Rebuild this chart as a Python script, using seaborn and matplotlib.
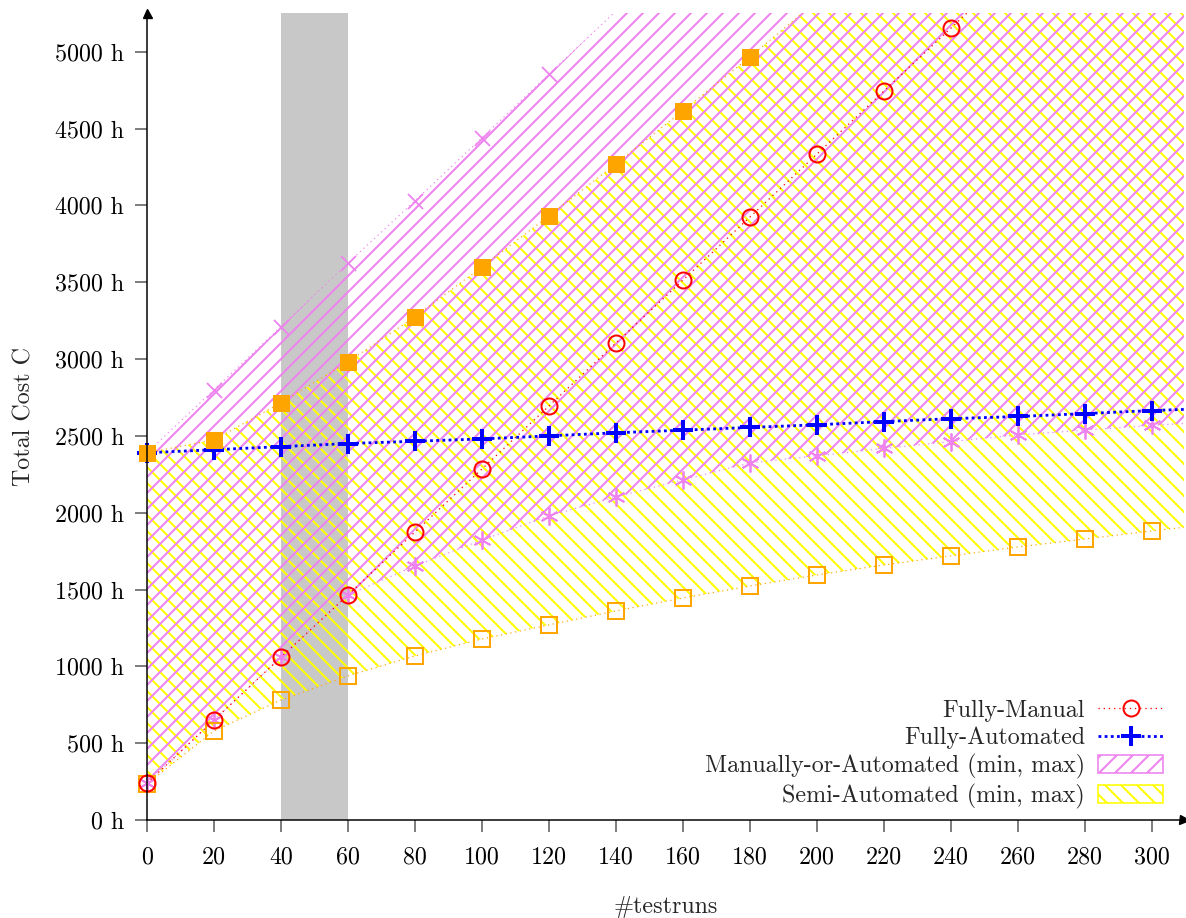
import numpy as np
import pandas as pd
import matplotlib
matplotlib.use("Agg")
import matplotlib.pyplot as plt
import seaborn as sns
from matplotlib.lines import Line2D
from matplotlib.patches import Patch

# ---------------- data ----------------
testruns = [0, 20, 40, 60, 80, 100, 120, 140, 160, 180, 200, 220, 240, 260, 280, 300, 320]

fully_manual = [240, 650, 1060, 1465, 1875, 2285, 2695, 3105, 3515, 3925, 4335, 4745, 5155, 5565,
                5975, 6385, 6795]
fully_automated = [2390, 2410, 2430, 2450, 2465, 2480, 2500, 2520, 2537, 2555, 2572, 2593, 2612,
                   2626, 2645, 2665, 2680]
manual_or_auto_min = [240, 650, 1060, 1465, 1654, 1823, 1979, 2103, 2214, 2324, 2370, 2418, 2463,
                      2506, 2537, 2568, 2595]
manual_or_auto_max = [2390, 2800, 3210, 3625, 4030, 4440, 4855, 5265, 5675, 6085, 6495, 6905,
                      7315, 7725, 8135, 8545, 8955]
semi_auto_min = [235, 580, 781, 938, 1068, 1178, 1270, 1361, 1445, 1523, 1595, 1660, 1719, 1777,
                 1829, 1882, 1930]
semi_auto_max = [2390, 2474, 2715, 2982, 3275, 3600, 3932, 4271, 4616, 4967, 5330, 5700, 6080,
                 6470, 6860, 7260, 7660]

x_ticks = [0, 20, 40, 60, 80, 100, 120, 140, 160, 180, 200, 220, 240, 260, 280, 300]
y_ticks = [0, 500, 1000, 1500, 2000, 2500, 3000, 3500, 4000, 4500, 5000]
y_ticklabels = ["0 h", "500 h", "1000 h", "1500 h", "2000 h", "2500 h", "3000 h", "3500 h",
                "4000 h", "4500 h", "5000 h"]
highlight_range = (40, 60)

legend_labels = ["Fully-Manual", "Fully-Automated", "Manually-or-Automated (min, max)",
                 "Semi-Automated (min, max)"]

# ---------------- style ----------------
DPI = 96


def px(v):
    """pixel size -> points at the chosen dpi"""
    return v * 72.0 / DPI


sns.set_theme(style="white")
plt.rcParams["font.family"] = ["cmr10", "DejaVu Serif"]
plt.rcParams["mathtext.fontset"] = "cm"
plt.rcParams["axes.unicode_minus"] = False
plt.rcParams["hatch.linewidth"] = px(2.0)

FS = px(24)
XMAX, YMAX = 309.5, 5252

df = pd.DataFrame({
    "testruns": testruns,
    "manual": fully_manual,
    "auto": fully_automated,
    "moa_min": manual_or_auto_min,
    "moa_max": manual_or_auto_max,
    "semi_min": semi_auto_min,
    "semi_max": semi_auto_max,
})

fig = plt.figure(figsize=(1186 / DPI, 918 / DPI), dpi=DPI)
ax = fig.add_axes([147 / 1186, (918 - 820) / 918, (1184 - 147) / 1186, (820 - 13) / 918])

VIOLET = "#ee82ee"
ORANGE = "#ffa500"
YELLOW = "#ffff00"
RED = "#ff0000"
BLUE = "#0000ff"

# grey band
ax.axvspan(*highlight_range, color="#c8c8c8", lw=0, zorder=0)

# hatched ranges
ax.fill_between(df["testruns"], df["semi_min"], df["semi_max"], facecolor="none",
                edgecolor=YELLOW, hatch="\\\\", linewidth=0, zorder=1)
ax.fill_between(df["testruns"], df["moa_min"], df["moa_max"], facecolor="none",
                edgecolor=VIOLET, hatch="//", linewidth=0, zorder=2)

# boundary lines (clipped)
dot = (0, (1, 3))
for col, c in [("semi_min", ORANGE), ("semi_max", ORANGE), ("moa_min", VIOLET), ("moa_max", VIOLET)]:
    sns.lineplot(data=df, x="testruns", y=col, ax=ax, color=c, lw=px(1.2), linestyle=dot,
                 legend=False, zorder=3)
sns.lineplot(data=df, x="testruns", y="manual", ax=ax, color=RED, lw=px(1.3), linestyle=dot,
             legend=False, zorder=4)
sns.lineplot(data=df, x="testruns", y="auto", ax=ax, color=BLUE, lw=px(2.8),
             linestyle=(0, (1, 1.2)), legend=False, zorder=5)

# markers (only within view, unclipped)
def visible(col):
    return df[(df["testruns"] <= 300) & (df[col] <= YMAX)]

mk = dict(linestyle="", legend=False, clip_on=False)
d = visible("moa_max")
sns.lineplot(x=d["testruns"], y=d["moa_max"], ax=ax, marker="x", markersize=px(15), mew=px(1.8),
             color=VIOLET, markeredgecolor=VIOLET, zorder=6, **mk)
d = visible("moa_min")
sns.lineplot(x=d["testruns"], y=d["moa_min"], ax=ax, marker=(6, 2, 0), markersize=px(18),
             mew=px(1.8), color=VIOLET, markeredgecolor=VIOLET, zorder=6, **mk)
d = visible("auto")
sns.lineplot(x=d["testruns"], y=d["auto"], ax=ax, marker="+", markersize=px(20), mew=px(4),
             color=BLUE, markeredgecolor=BLUE, zorder=7, **mk)
d = visible("semi_max")
sns.lineplot(x=d["testruns"], y=d["semi_max"], ax=ax, marker="s", markersize=px(17), mew=0,
             color=ORANGE, markerfacecolor=ORANGE, markeredgecolor=ORANGE, zorder=8, **mk)
d = visible("semi_min")
sns.lineplot(x=d["testruns"], y=d["semi_min"], ax=ax, marker="s", markersize=px(16), mew=px(2),
             markerfacecolor="none", markeredgecolor=ORANGE, color=ORANGE, zorder=8, **mk)
d = visible("manual")
sns.lineplot(x=d["testruns"], y=d["manual"], ax=ax, marker="o", markersize=px(16), mew=px(2),
             markerfacecolor="none", markeredgecolor=RED, color=RED, zorder=9, **mk)

# axes
ax.set_xlim(0, XMAX)
ax.set_ylim(0, YMAX)
ax.set_xticks(x_ticks)
ax.set_xticklabels([str(t) for t in x_ticks])
ax.set_yticks(y_ticks)
ax.set_yticklabels(y_ticklabels)
ax.tick_params(axis="both", direction="out", length=px(12), width=px(1.5), color="#555555",
               labelsize=FS, labelcolor="black")
ax.tick_params(axis="x", pad=px(14), bottom=True)
ax.tick_params(axis="y", pad=px(11), left=True)
for s in ["top", "right"]:
    ax.spines[s].set_visible(False)
for s in ["left", "bottom"]:
    ax.spines[s].set_color("black")
    ax.spines[s].set_linewidth(px(1.5))
    ax.spines[s].set_zorder(10)
ax.grid(False)
ax.set_facecolor("white")

ax.plot(1, 0, marker=">", color="black", markersize=px(9), transform=ax.transAxes, clip_on=False,
        zorder=11)
ax.plot(0, 1, marker="^", color="black", markersize=px(9), transform=ax.transAxes, clip_on=False,
        zorder=11)

ax.set_xlabel("#testruns", fontsize=FS, labelpad=px(28))
ax.set_ylabel("Total Cost C", fontsize=FS, labelpad=px(19))

# legend
handles = [
    Line2D([], [], color=RED, lw=px(1.3), linestyle=dot, marker="o", markersize=px(16), mew=px(2),
           markerfacecolor="none", markeredgecolor=RED),
    Line2D([], [], color=BLUE, lw=px(2.8), linestyle=(0, (1, 1.2)), marker="+", markersize=px(20),
           mew=px(4), markeredgecolor=BLUE),
    Patch(facecolor="white", edgecolor=VIOLET, hatch="//", linewidth=px(1.6)),
    Patch(facecolor="white", edgecolor=YELLOW, hatch="\\\\", linewidth=px(1.6)),
]
fig.legend(handles, legend_labels, loc="lower right", bbox_to_anchor=(1163 / 1186, (918 - 809) / 918),
           frameon=False, fontsize=FS, markerfirst=False, handlelength=2.7, handleheight=0.8,
           handletextpad=0.55, labelspacing=0.2, borderpad=0, borderaxespad=0)

fig.savefig("out.png", dpi=DPI, facecolor="white")
